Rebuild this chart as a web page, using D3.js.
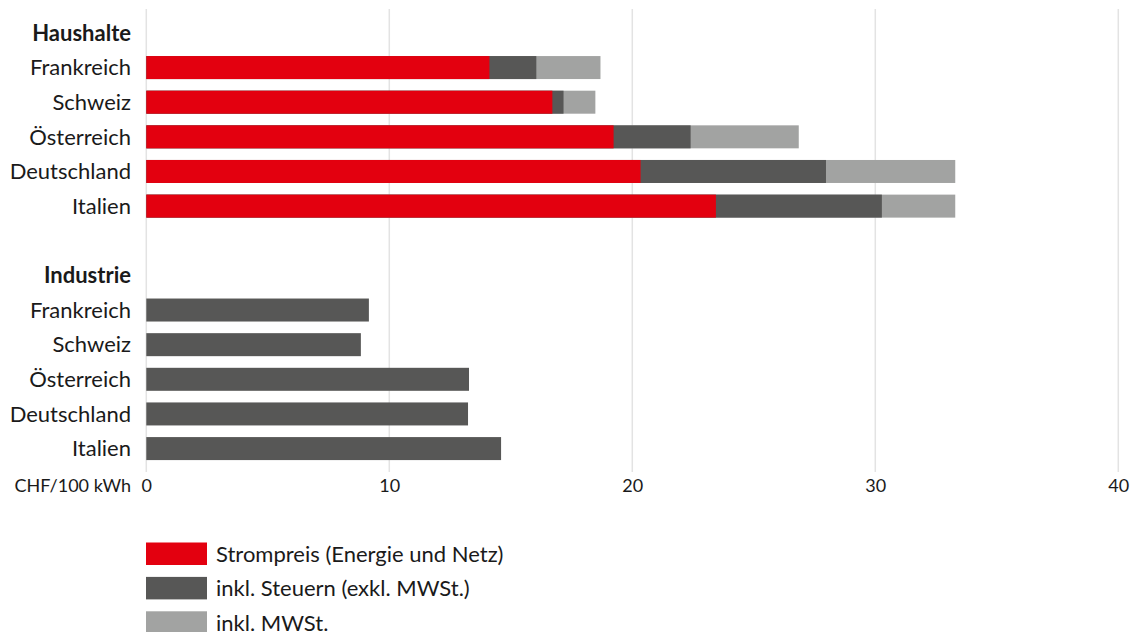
<!DOCTYPE html>
<html>
<head>
<meta charset="utf-8">
<script src="https://cdn.jsdelivr.net/npm/d3@7"></script>
<style>
  html, body { margin: 0; padding: 0; background: #fff; }
  svg { display: block; font-family: Lato, "Open Sans", sans-serif; }
</style>
</head>
<body>
<svg id="chart" width="1133" height="632"></svg>
<script>
// Strompreise in CHF/100 kWh
const countries = ["Frankreich", "Schweiz", "Österreich", "Deutschland", "Italien"];
// Haushalte: kumulierte Werte
const hhStrompreis = [14.12, 16.71, 19.23, 20.34, 23.44];
const hhInklSteuern = [16.05, 17.17, 22.40, 27.97, 30.27];
const hhInklMwst = [18.69, 18.48, 26.85, 33.29, 33.29];
// Industrie: inkl. Steuern (exkl. MWSt.)
const indInklSteuern = [9.16, 8.83, 13.28, 13.24, 14.60];

const groupLabels = ["Haushalte", "Industrie"];
const xTicks = [0, 10, 20, 30, 40];
const axisUnit = "CHF/100 kWh";
const legendLabels = ["Strompreis (Energie und Netz)", "inkl. Steuern (exkl. MWSt.)", "inkl. MWSt."];

const colors = { strom: "#e3000f", steuern: "#575756", mwst: "#a2a3a2" };
const legendColors = [colors.strom, colors.steuern, colors.mwst];

const svg = d3.select("#chart");
const textColor = "#1a1a1a";

// Zeilen: Gruppenüberschrift, Länder, Leerzeile, Gruppenüberschrift, Länder
const rows = [];
rows.push({ key: "h-head", label: groupLabels[0], head: true });
countries.forEach((c, i) => rows.push({ key: "h-" + i, label: c }));
rows.push({ key: "gap", label: "" });
rows.push({ key: "i-head", label: groupLabels[1], head: true });
countries.forEach((c, i) => rows.push({ key: "i-" + i, label: c }));

const x = d3.scaleLinear().domain([0, 40]).range([146.3, 1118.3]);
const y = d3.scaleBand()
  .domain(rows.map(r => r.key))
  .range([15.6, 465.9])
  .paddingInner(0.336)
  .paddingOuter(0.168);

// Gitterlinien
svg.append("g")
  .selectAll("line")
  .data(xTicks)
  .join("line")
  .attr("x1", d => x(d)).attr("x2", d => x(d))
  .attr("y1", 9).attr("y2", 472)
  .attr("stroke", "#e3e3e3")
  .attr("stroke-width", 1.5);

// Haushalte: drei überlagerte Balken
const hh = countries.map((c, i) => ({
  key: "h-" + i, strom: hhStrompreis[i], steuern: hhInklSteuern[i], mwst: hhInklMwst[i]
}));
const barLayer = svg.append("g");
[["mwst", colors.mwst], ["steuern", colors.steuern], ["strom", colors.strom]].forEach(([k, col]) => {
  barLayer.append("g")
    .selectAll("rect")
    .data(hh)
    .join("rect")
    .attr("x", x(0))
    .attr("y", d => y(d.key))
    .attr("width", d => x(d[k]) - x(0))
    .attr("height", y.bandwidth())
    .attr("fill", col);
});

// Industrie
barLayer.append("g")
  .selectAll("rect")
  .data(indInklSteuern.map((v, i) => ({ key: "i-" + i, v })))
  .join("rect")
  .attr("x", x(0))
  .attr("y", d => y(d.key))
  .attr("width", d => x(d.v) - x(0))
  .attr("height", y.bandwidth())
  .attr("fill", colors.steuern);

// Zeilenbeschriftungen
svg.append("g")
  .selectAll("text")
  .data(rows.filter(r => r.label))
  .join("text")
  .attr("x", 131)
  .attr("y", d => y(d.key) + y.bandwidth() / 2)
  .attr("dy", "0.35em")
  .attr("text-anchor", "end")
  .attr("font-size", 22)
  .attr("font-weight", d => d.head ? 700 : 400)
  .attr("fill", textColor)
  .text(d => d.label);

// x-Achse
const xAxis = d3.axisBottom(x).tickValues(xTicks).tickSize(0).tickPadding(0).tickFormat(d3.format("d"));
const axisG = svg.append("g")
  .attr("transform", "translate(0,486)")
  .call(xAxis);
axisG.select(".domain").remove();
axisG.selectAll("text")
  .attr("font-size", 18)
  .attr("font-family", "Lato, sans-serif")
  .attr("fill", textColor)
  .attr("dy", "0.35em");

svg.append("text")
  .attr("x", 131)
  .attr("y", 486)
  .attr("dy", "0.35em")
  .attr("text-anchor", "end")
  .attr("font-size", 18)
  .attr("fill", textColor)
  .text(axisUnit);

// Legende
const legend = svg.append("g")
  .selectAll("g")
  .data(legendLabels)
  .join("g")
  .attr("transform", (d, i) => `translate(146,${542.5 + i * 34.4})`);
legend.append("rect")
  .attr("width", 61)
  .attr("height", 22.5)
  .attr("fill", (d, i) => legendColors[i]);
legend.append("text")
  .attr("x", 70)
  .attr("y", 11.5)
  .attr("dy", "0.35em")
  .attr("font-size", 22)
  .attr("fill", textColor)
  .text(d => d);
</script>
</body>
</html>
